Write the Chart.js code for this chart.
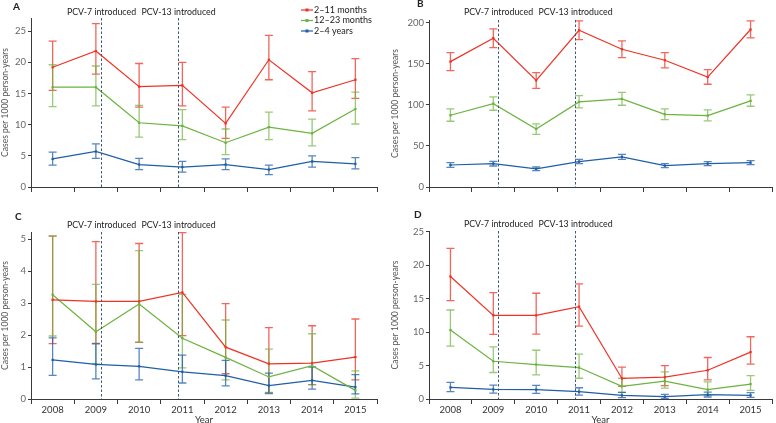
<!DOCTYPE html>
<html>
<head>
<meta charset="utf-8">
<script src="https://cdn.jsdelivr.net/npm/chart.js@4"></script>
<style>
    body { margin: 0; background: #fff; }
    #wrap { position: relative; width: 776px; height: 423px; overflow: hidden; }
    canvas { position: absolute; }
</style>
</head>
<body>
<div id="wrap">
    <canvas id="chart-a" width="390" height="200" style="left:0;top:0"></canvas>
    <canvas id="chart-b" width="386" height="200" style="left:390px;top:0"></canvas>
    <canvas id="chart-c" width="390" height="223" style="left:0;top:200px"></canvas>
    <canvas id="chart-d" width="386" height="223" style="left:390px;top:200px"></canvas>
</div>
<script>
// Categories and series names
const years = ["2008", "2009", "2010", "2011", "2012", "2013", "2014", "2015"];
const series_names = ["2–11 months", "12–23 months", "2–4 years"];
const vaccine_labels = ["PCV-7 introduced", "PCV-13 introduced"];
// position of the introduction lines, in category units (2008 = 0)
const vaccine_positions = [1.12, 2.9];

// Panel A
const a_red = [19.2, 21.8, 16.1, 16.3, 10.2, 20.4, 15.1, 17.2];
const a_red_lo = [15.5, 18.1, 12.8, 13.0, 7.8, 17.2, 12.2, 14.2];
const a_red_hi = [23.4, 26.2, 19.8, 20.0, 12.8, 24.3, 18.5, 20.6];
const a_green = [16.0, 16.0, 10.3, 9.8, 7.1, 9.6, 8.6, 12.5];
const a_green_lo = [12.9, 13.0, 8.0, 7.6, 5.2, 7.6, 6.6, 10.1];
const a_green_hi = [19.6, 19.4, 13.1, 12.4, 9.3, 12.0, 10.9, 15.2];
const a_blue = [4.5, 5.7, 3.6, 3.2, 3.6, 2.8, 4.1, 3.7];
const a_blue_lo = [3.5, 4.6, 2.8, 2.4, 2.8, 2.0, 3.2, 2.9];
const a_blue_hi = [5.6, 6.9, 4.6, 4.1, 4.5, 3.5, 5.0, 4.7];
const a_ticks = [0, 5, 10, 15, 20, 25];

// Panel B
const b_red = [152.8, 181.3, 130, 191, 167.9, 154.5, 134, 191.9];
const b_red_lo = [141.9, 169.9, 120.3, 179.7, 157.7, 145.1, 125.2, 181.7];
const b_red_hi = [163.8, 192.7, 139.4, 202.4, 178, 163.8, 143, 202.4];
const b_green = [87.4, 101.6, 70.7, 103.7, 107.3, 88.6, 87, 104.9];
const b_green_lo = [80.1, 93.5, 64.2, 96.3, 99.6, 82.1, 80.5, 98.4];
const b_green_hi = [95.1, 109.8, 76.8, 111.4, 115.4, 95.1, 93.9, 112.2];
const b_blue = [26.8, 28.5, 22, 30.9, 36.6, 26, 28.5, 29.7];
const b_blue_lo = [24, 25.6, 19.9, 28.5, 33.7, 23.6, 26, 27.2];
const b_blue_hi = [29.7, 31.3, 24.4, 33.7, 39.8, 28.5, 30.9, 32.1];
const b_ticks = [0, 50, 100, 150, 200];

// Panel C
const c_red = [3.1, 3.05, 3.05, 3.33, 1.62, 1.1, 1.12, 1.31];
const c_red_lo = [1.73, 1.74, 1.77, 1.98, 0.79, 0.2, 0.45, 0.6];
const c_red_hi = [5.09, 4.92, 4.86, 5.2, 2.98, 2.23, 2.29, 2.5];
const c_green = [3.26, 2.1, 2.97, 1.9, 1.3, 0.69, 1.04, 0.27];
const c_green_lo = [1.97, 1.1, 1.78, 0.97, 0.6, 0.21, 0.45, 0.03];
const c_green_hi = [5.1, 3.58, 4.64, 3.27, 2.47, 1.56, 2.04, 0.88];
const c_blue = [1.22, 1.08, 1.02, 0.85, 0.73, 0.42, 0.58, 0.37];
const c_blue_lo = [0.74, 0.63, 0.6, 0.5, 0.41, 0.17, 0.31, 0.16];
const c_blue_hi = [1.91, 1.72, 1.58, 1.37, 1.21, 0.81, 1.0, 0.76];
const c_ticks = [0, 1, 2, 3, 4, 5];

// Panel D
const d_red = [18.3, 12.5, 12.5, 13.8, 3.07, 3.27, 4.3, 7.0];
const d_red_lo = [14.7, 9.65, 9.7, 10.9, 1.9, 2.0, 2.87, 5.2];
const d_red_hi = [22.5, 15.9, 15.8, 17.2, 4.75, 5.0, 6.2, 9.3];
const d_green = [10.3, 5.64, 5.15, 4.7, 1.88, 2.67, 1.39, 2.23];
const d_green_lo = [7.9, 3.96, 3.6, 3.1, 1.0, 1.63, 0.54, 1.29];
const d_green_hi = [13.3, 7.8, 7.28, 6.7, 3.1, 4.06, 2.57, 3.5];
const d_blue = [1.73, 1.44, 1.39, 1.09, 0.54, 0.35, 0.64, 0.54];
const d_blue_lo = [1.09, 0.89, 0.84, 0.59, 0.2, 0.1, 0.3, 0.25];
const d_blue_hi = [2.47, 2.08, 2.03, 1.68, 0.99, 0.69, 1.04, 0.94];
const d_ticks = [0, 5, 10, 15, 20, 25];

// Colours
const colours = ["#ee3326", "#6cb33f", "#1f5ea8"];
const bar_colours = ["rgba(238, 51, 38, 0.75)", "rgba(108, 179, 63, 0.7)", "rgba(31, 94, 168, 0.75)"];
const font_family = "Lato, 'Open Sans', sans-serif";
const axis_colour = "#3a3a3a";

// Draw the confidence intervals for every dataset
const error_bar_plugin = {
    id: "errorBars",
    beforeDatasetsDraw(chart) {
        const ctx = chart.ctx;
        const y = chart.scales.y;
        chart.data.datasets.forEach((ds, i) => {
            const meta = chart.getDatasetMeta(i);
            ctx.save();
            ctx.strokeStyle = bar_colours[i];
            ctx.lineWidth = 1.3;
            meta.data.forEach((pt, j) => {
                const lo = y.getPixelForValue(ds.lower[j]);
                const hi = y.getPixelForValue(ds.upper[j]);
                ctx.beginPath();
                ctx.moveTo(pt.x, lo);
                ctx.lineTo(pt.x, hi);
                ctx.moveTo(pt.x - 4, lo);
                ctx.lineTo(pt.x + 4, lo);
                ctx.moveTo(pt.x - 4, hi);
                ctx.lineTo(pt.x + 4, hi);
                ctx.stroke();
            });
            ctx.restore();
        });
    }
};

// Dashed lines for the vaccine introductions, plus panel letter and legend
const annotation_plugin = {
    id: "annotations",
    afterDraw(chart, args, opts) {
        const ctx = chart.ctx;
        const x = chart.scales.x;
        const area = chart.chartArea;
        ctx.save();
        ctx.strokeStyle = "#3a5878";
        ctx.lineWidth = 1;
        ctx.setLineDash([2.5, 2]);
        ctx.font = "8.8px " + font_family;
        ctx.fillStyle = "#222";
        ctx.textAlign = "center";
        ctx.textBaseline = "middle";
        vaccine_positions.forEach((pos, i) => {
            const px = Math.round(x.getPixelForValue(pos)) + 0.5;
            ctx.beginPath();
            ctx.moveTo(px, area.top);
            ctx.lineTo(px, area.bottom);
            ctx.stroke();
            ctx.fillText(vaccine_labels[i], px, area.top - opts.textGap);
        });
        ctx.setLineDash([]);

        // panel letter
        ctx.font = "bold 10px " + font_family;
        ctx.textAlign = "left";
        ctx.fillText(opts.letter, opts.letterX, opts.letterY);

        // legend
        if (opts.legend) {
            ctx.font = "9px " + font_family;
            series_names.forEach((name, i) => {
                const ly = 10 + i * 10.5;
                ctx.strokeStyle = colours[i];
                ctx.lineWidth = 1.2;
                ctx.beginPath();
                ctx.moveTo(301, ly);
                ctx.lineTo(313, ly);
                ctx.stroke();
                ctx.fillStyle = colours[i];
                ctx.fillRect(305.5, ly - 1.5, 3, 3);
                ctx.fillStyle = "#222";
                ctx.fillText(name, 314, ly);
            });
        }
        ctx.restore();
    }
};

function make_dataset(i, values, lower, upper) {
    return {
        label: series_names[i],
        data: values,
        lower: lower,
        upper: upper,
        borderColor: colours[i],
        backgroundColor: colours[i],
        borderWidth: 1.2,
        pointStyle: "rect",
        pointRadius: 1.6,
        pointBorderWidth: 0,
        tension: 0
    };
}

function create_panel(id, p) {
    const ctx = document.getElementById(id).getContext("2d");
    const config = {
        type: "line",
        data: {
            labels: years,
            datasets: p.datasets
        },
        options: {
            responsive: false,
            animation: false,
            layout: {
                padding: { left: 0, right: p.right, top: p.top, bottom: 0 }
            },
            scales: {
                x: {
                    offset: true,
                    grid: {
                        offset: true,
                        drawOnChartArea: false,
                        tickLength: 5,
                        color: axis_colour
                    },
                    border: { color: axis_colour, width: 1 },
                    ticks: {
                        display: p.showYears,
                        padding: 0,
                        color: "#333",
                        maxRotation: 0,
                        font: { family: font_family, size: 9.5 }
                    },
                    title: {
                        display: p.showYears,
                        text: "Year",
                        color: "#333",
                        padding: { top: 0, bottom: -3 },
                        font: { family: font_family, size: 9.5 }
                    },
                    afterFit: (scale) => { scale.height = p.xHeight; }
                },
                y: {
                    min: 0,
                    max: p.max,
                    grid: {
                        drawOnChartArea: false,
                        tickLength: 3,
                        color: axis_colour
                    },
                    border: { color: axis_colour, width: 1 },
                    ticks: {
                        padding: 2,
                        color: "#666",
                        font: { family: font_family, size: 9.5 }
                    },
                    title: {
                        display: true,
                        text: "Cases per 1000 person-years",
                        color: "#555",
                        padding: 0,
                        font: { family: font_family, size: 8.5 }
                    },
                    afterBuildTicks: (scale) => { scale.ticks = p.ticks.map((v) => ({ value: v })); },
                    afterFit: (scale) => { scale.width = p.yWidth; }
                }
            },
            plugins: {
                legend: { display: false },
                tooltip: { enabled: false },
                annotations: {
                    letter: p.letter,
                    letterX: p.letterX,
                    letterY: p.letterY,
                    legend: p.legend,
                    textGap: p.textGap
                }
            }
        },
        plugins: [error_bar_plugin, annotation_plugin]
    };
    return new Chart(ctx, config);
}

create_panel("chart-a", {
    datasets: [
        make_dataset(0, a_red, a_red_lo, a_red_hi),
        make_dataset(1, a_green, a_green_lo, a_green_hi),
        make_dataset(2, a_blue, a_blue_lo, a_blue_hi)
    ],
    max: 27.1, ticks: a_ticks, top: 18, right: 13, yWidth: 31, xHeight: 13,
    showYears: false, letter: "A", letterX: 13, letterY: 7, legend: true, textGap: 6
});

create_panel("chart-b", {
    datasets: [
        make_dataset(0, b_red, b_red_lo, b_red_hi),
        make_dataset(1, b_green, b_green_lo, b_green_hi),
        make_dataset(2, b_blue, b_blue_lo, b_blue_hi)
    ],
    max: 203.5, ticks: b_ticks, top: 20, right: 1, yWidth: 39, xHeight: 13,
    showYears: false, letter: "B", letterX: 27, letterY: 4, legend: false, textGap: 8
});

create_panel("chart-c", {
    datasets: [
        make_dataset(0, c_red, c_red_lo, c_red_hi),
        make_dataset(1, c_green, c_green_lo, c_green_hi),
        make_dataset(2, c_blue, c_blue_lo, c_blue_hi)
    ],
    max: 5.22, ticks: c_ticks, top: 32, right: 13, yWidth: 31, xHeight: 24,
    showYears: true, letter: "C", letterX: 15, letterY: 17, legend: false, textGap: 7
});

create_panel("chart-d", {
    datasets: [
        make_dataset(0, d_red, d_red_lo, d_red_hi),
        make_dataset(1, d_green, d_green_lo, d_green_hi),
        make_dataset(2, d_blue, d_blue_lo, d_blue_hi)
    ],
    max: 25.1, ticks: d_ticks, top: 31, right: 1, yWidth: 39, xHeight: 24,
    showYears: true, letter: "D", letterX: 24, letterY: 15, legend: false, textGap: 7
});
</script>
</body>
</html>
